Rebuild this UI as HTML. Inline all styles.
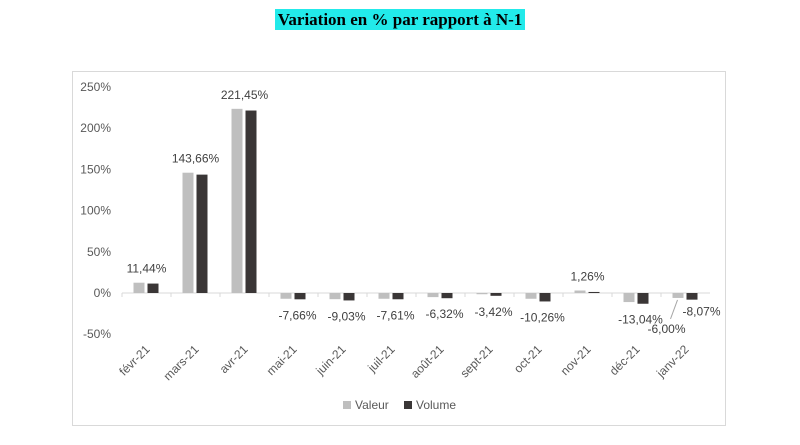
<!DOCTYPE html>
<html><head><meta charset="utf-8"><style>
body{margin:0;background:#fff;width:800px;height:445px;overflow:hidden;font-family:"Liberation Sans",sans-serif}
#title{position:absolute;left:0;width:800px;top:10px;text-align:center}
#title span{background:#22eaea;font-family:"Liberation Serif",serif;font-weight:bold;font-size:17px;padding:1px 3px}
</style></head><body>
<div id="title"><span>Variation en % par rapport à N-1</span></div>
<svg id="c" width="800" height="445" style="position:absolute;left:0;top:0"></svg>
<script>
const categories=["févr-21","mars-21","avr-21","mai-21","juin-21","juil-21","août-21","sept-21","oct-21","nov-21","déc-21","janv-22"];
const valeur=[12.5,146,223.5,-7,-7.5,-7,-5,-1.5,-7,3,-11,-6];
const volume=[11.44,143.66,221.45,-7.66,-9.03,-7.61,-6.32,-3.42,-10.26,1.26,-13.04,-8.07];
const volumeLabels=["11,44%","143,66%","221,45%","-7,66%","-9,03%","-7,61%","-6,32%","-3,42%","-10,26%","1,26%","-13,04%","-8,07%"];
const yTicks=[-50,0,50,100,150,200,250];
const yTickLabels=["-50%","0%","50%","100%","150%","200%","250%"];
const svg=document.getElementById('c');const NS="http://www.w3.org/2000/svg";
function el(t,a,p){const e=document.createElementNS(NS,t);for(const k in a)e.setAttribute(k,a[k]);(p||svg).appendChild(e);return e;}
const x0=122,step=49,y=v=>293-v*0.824;
const frame=el('rect',{x:72.5,y:71.5,width:653,height:354,fill:'none',stroke:'#d9d9d9'});

yTicks.forEach((t,i)=>{const tx=el('text',{x:111,y:y(t)+4,'text-anchor':'end','font-size':12,fill:'#595959'});tx.textContent=yTickLabels[i];
});
const ax=el('line',{x1:x0,x2:x0+step*categories.length,y1:y(0),y2:y(0),stroke:'#d9d9d9'});

categories.forEach((c,i)=>{
 const tk=el('line',{x1:x0+i*step,x2:x0+i*step,y1:y(0),y2:y(0)+4,stroke:'#d9d9d9'});
 
 const cx=x0+i*step+step/2;
 const b1=el('rect',{x:cx-13,y:Math.min(y(0),y(valeur[i])),width:11,height:Math.abs(y(valeur[i])-y(0)),fill:'#bfbfbf'});
 
 const b2=el('rect',{x:cx+1,y:Math.min(y(0),y(volume[i])),width:11,height:Math.abs(y(volume[i])-y(0)),fill:'#3a3636'});
 
 let ly,lx=cx;
 if(volume[i]>=0){ly=Math.min(y(volume[i]),y(valeur[i]))-10;}else{ly=y(volume[i])+20;lx=cx+4;}
 if(i===categories.length-1){lx=cx+16;ly=y(volume[i])+16;}
 const lb=el('text',{x:lx,y:ly,'text-anchor':'middle','font-size':12,fill:'#404040'});lb.textContent=volumeLabels[i];
 
 const xl=el('text',{x:cx+4,y:350,'text-anchor':'end','font-size':12,fill:'#595959',transform:`rotate(-45 ${cx+4} 350)`});xl.textContent=c;
 
});
// janv-22 valeur label with leader
const li=categories.length-1,lcx=x0+li*step+step/2;
const ld=el('line',{x1:lcx-8,y1:y(valeur[li])+2,x2:lcx-15,y2:y(valeur[li])+21,stroke:'#a6a6a6'});

const vl=el('text',{x:lcx-19,y:y(valeur[li])+35,'text-anchor':'middle','font-size':12,fill:'#404040'});vl.textContent="-6,00%";

// legend
const lg=el('g',{});
el('rect',{x:343,y:401,width:8,height:8,fill:'#bfbfbf'},lg);
const t1=el('text',{x:355,y:409,'font-size':12,fill:'#595959'},lg);t1.textContent="Valeur";

el('rect',{x:404,y:401,width:8,height:8,fill:'#3a3636'},lg);
const t2=el('text',{x:416,y:409,'font-size':12,fill:'#595959'},lg);t2.textContent="Volume";

</script>
</body></html>
